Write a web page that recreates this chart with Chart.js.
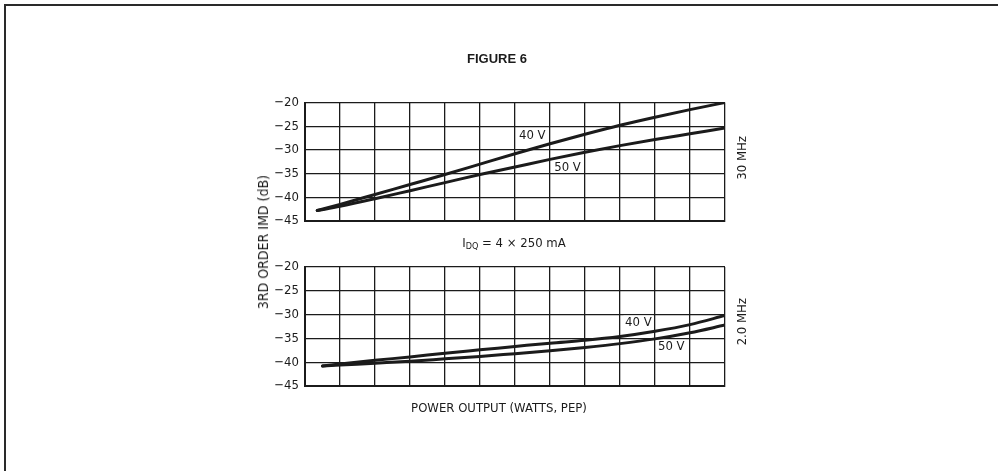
<!DOCTYPE html>
<html>
<head>
<meta charset="utf-8">
<script src="https://cdn.jsdelivr.net/npm/chart.js@4.4.0/dist/chart.umd.min.js"></script>
<style>
  html, body { margin: 0; padding: 0; background: #fff; }
  #page {
    position: relative; width: 998px; height: 471px; overflow: hidden; background: #fff;
    font-family: "DejaVu Sans Condensed", "Liberation Sans Narrow", sans-serif; color: #1b1b1b;
  }
  #page canvas { position: absolute; left: 0; top: 0; }
  .frame-top { position: absolute; left: 4px; top: 4px; width: 994px; height: 2px; background: #2a2a2a; }
  .frame-left { position: absolute; left: 4px; top: 4px; width: 2px; height: 467px; background: #2a2a2a; }
  .txt { position: absolute; white-space: nowrap; transform: translate(-50%, -50%); font-size: 13px; line-height: 1; }
  .vert { position: absolute; white-space: nowrap; writing-mode: vertical-rl; transform: rotate(180deg); font-size: 13px; line-height: 16px; }
  .fig { font-family: "Liberation Sans", Arial, sans-serif; font-weight: bold; font-size: 13px; }
  sub { font-size: 9px; vertical-align: -2px; }
</style>
</head>
<body>
<div id="page">
  <div class="frame-top"></div>
  <div class="frame-left"></div>
  <canvas id="chart30" width="998" height="471"></canvas>
  <canvas id="chart2" width="998" height="471"></canvas>
  <div class="txt fig" style="left:497px; top:58px;">FIGURE 6</div>
  <div class="txt" style="left:514px; top:243px;">I<sub>DQ</sub> = 4 × 250 mA</div>
  <div class="txt" style="left:499px; top:407px;">POWER OUTPUT (WATTS, PEP)</div>
  <div class="vert" style="left:255px; top:175px; font-size:14px;">3RD ORDER IMD (dB)</div>
  <div class="vert" style="left:734px; top:136px;">30 MHz</div>
  <div class="vert" style="left:734px; top:298px;">2.0 MHz</div>
</div>
<script>
// Data (x in grid divisions, no scale printed)
const yTicks = [-45, -40, -35, -30, -25, -20];

const power30 = [0.35, 1, 2, 3, 4, 5, 6, 7, 8, 9, 10, 11, 12];
const imd30_40V = [-42.8, -41.5, -39.4, -37.3, -35.2, -33.0, -30.8, -28.7, -26.7, -24.8, -23.1, -21.5, -20.0];
const imd30_50V = [-42.8, -41.9, -40.3, -38.6, -36.9, -35.2, -33.6, -32.0, -30.5, -29.1, -27.8, -26.6, -25.4];

const power2 = [0.5, 1, 2, 3, 4, 5, 6, 7, 8, 9, 10, 11, 12];
const imd2_40V = [-40.8, -40.4, -39.6, -38.9, -38.1, -37.4, -36.7, -36.0, -35.4, -34.6, -33.5, -32.1, -30.2];
const imd2_50V = [-40.8, -40.6, -40.2, -39.8, -39.3, -38.8, -38.2, -37.6, -36.9, -36.1, -35.1, -33.8, -32.2];

const INK = '#1b1b1b';
const FONT = '"DejaVu Sans Condensed", "Liberation Sans Narrow", sans-serif';

// white label boxes sitting on the grid ("40 V", "50 V")
const boxLabels = {
    id: 'boxLabels',
    beforeDatasetsDraw(chart, args, opts) {
        const { ctx, scales: { x, y } } = chart;
        (opts.items || []).forEach(it => {
            const l = x.getPixelForValue(it.x0), r = x.getPixelForValue(it.x1);
            const t = y.getPixelForValue(it.y0), b = y.getPixelForValue(it.y1);
            ctx.save();
            ctx.fillStyle = '#fff';
            ctx.fillRect(l, t, r - l, b - t);
            ctx.fillStyle = INK;
            ctx.font = '13px ' + FONT;
            ctx.textAlign = 'center';
            ctx.textBaseline = 'middle';
            ctx.fillText(it.text, (l + r) / 2, (t + b) / 2 + 1);
            ctx.restore();
        });
    }
};

function toPoints(xs, ys) {
    return xs.map((v, i) => ({ x: v, y: ys[i] }));
}

function curve(label, xs, ys) {
    return {
        label: label,
        data: toPoints(xs, ys),
        borderColor: INK,
        borderWidth: 3,
        borderCapStyle: 'round',
        pointRadius: 0,
        fill: false,
        cubicInterpolationMode: 'monotone'
    };
}

function makePanel(id, top, bottom, datasets, labels) {
    return new Chart(document.getElementById(id), {
        type: 'line',
        data: { datasets: datasets },
        plugins: [boxLabels],
        options: {
            responsive: false,
            animation: false,
            layout: { padding: { left: 265, right: 273, top: top, bottom: 471 - bottom } },
            plugins: {
                legend: { display: false },
                tooltip: { enabled: false },
                boxLabels: { items: labels }
            },
            scales: {
                x: {
                    type: 'linear',
                    min: 0,
                    max: 12,
                    afterFit: (axis) => { axis.height = 0; },
                    ticks: { stepSize: 1, display: false },
                    grid: { color: INK, lineWidth: 1.3, drawTicks: false },
                    border: { color: INK, width: 2 }
                },
                y: {
                    min: -45,
                    max: -20,
                    afterFit: (axis) => { axis.width = 40; },
                    afterBuildTicks: (axis) => { axis.ticks = yTicks.map(v => ({ value: v })); },
                    ticks: {
                        padding: 6,
                        color: INK,
                        font: { family: FONT, size: 13 },
                        callback: (v) => String(v).replace('-', '\u2212')
                    },
                    grid: { color: INK, lineWidth: 1.3, drawTicks: false },
                    border: { color: INK, width: 2 }
                }
            }
        }
    });
}

makePanel('chart30', 102.5, 221,
    [curve('40 V', power30, imd30_40V), curve('50 V', power30, imd30_50V)],
    [
        { text: '40 V', x0: 6.04, x1: 6.95, y0: -25.4, y1: -28.3 },
        { text: '50 V', x0: 7.04, x1: 7.96, y0: -32.3, y1: -34.8 }
    ]);

makePanel('chart2', 267, 386,
    [curve('40 V', power2, imd2_40V), curve('50 V', power2, imd2_50V)],
    [
        { text: '40 V', x0: 9.1, x1: 9.95, y0: -30.2, y1: -32.8 },
        { text: '50 V', x0: 10.05, x1: 10.88, y0: -35.3, y1: -37.9 }
    ]);
</script>
</body>
</html>
